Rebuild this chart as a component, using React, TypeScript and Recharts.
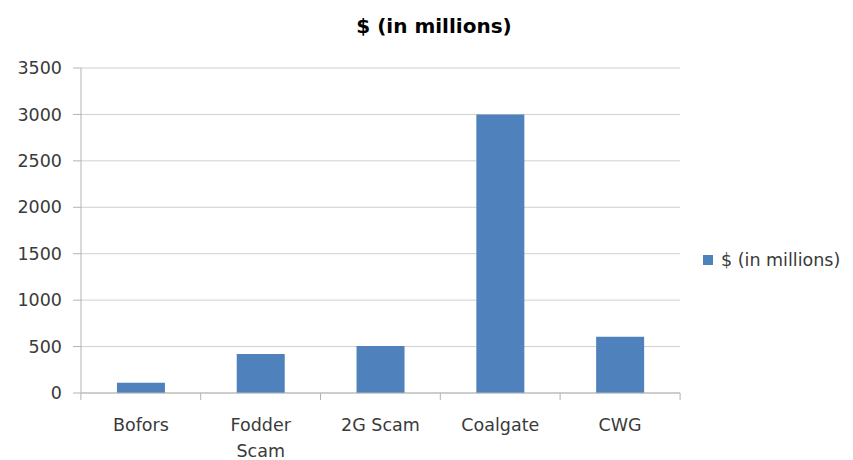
import { BarChart, Bar, XAxis, YAxis, CartesianGrid } from 'recharts'

const categories = ['Bofors', 'Fodder Scam', '2G Scam', 'Coalgate', 'CWG']
const amounts = [110, 420, 505, 3000, 605]
const yTicks = [0, 500, 1000, 1500, 2000, 2500, 3000, 3500]

const data = categories.map((name, i) => ({ name, value: amounts[i] }))

const FONT = '"DejaVu Sans", sans-serif'
const FONT_SIZE = 17.5
const BAR_COLOR = '#4f81bd'
const AXIS_COLOR = '#b3b3b3'
const TEXT_COLOR = '#3a3a3a'

// greedy word wrap with a rough glyph width estimate
function wrapLabel(label: string, maxWidth: number) {
  const charW = FONT_SIZE * 0.6
  const lines: string[] = []
  let cur = ''
  label.split(' ').forEach((w) => {
    const next = cur ? cur + ' ' + w : w
    if (cur && next.length * charW > maxWidth) {
      lines.push(cur)
      cur = w
    } else {
      cur = next
    }
  })
  if (cur) lines.push(cur)
  return lines
}

// category ticks with Excel-like marks at band edges
function CategoryTick(props: any) {
  const { x, y, payload, index } = props
  const half = 60
  const lines = wrapLabel(String(payload.value), 90)
  return (
    <g>
      <line x1={x - half} x2={x - half} y1={y - 8} y2={y - 1} stroke={AXIS_COLOR} />
      {index === categories.length - 1 && (
        <line x1={x + half} x2={x + half} y1={y - 8} y2={y - 1} stroke={AXIS_COLOR} />
      )}
      <text x={x} y={y + 30} textAnchor="middle" fill={TEXT_COLOR} fontSize={FONT_SIZE} fontFamily={FONT}>
        {lines.map((l, i) => (
          <tspan key={i} x={x} dy={i === 0 ? 0 : 26}>
            {l}
          </tspan>
        ))}
      </text>
    </g>
  )
}

export default function App() {
  return (
    <div style={{ position: 'absolute', left: 0, top: 0, width: 853, height: 460, background: '#fff' }}>
      <div
        style={{
          position: 'absolute',
          top: 14,
          left: 0,
          width: 868,
          textAlign: 'center',
          fontFamily: FONT,
          fontWeight: 700,
          fontSize: 20,
          color: '#000',
        }}
      >
        $ (in millions)
      </div>
      <BarChart
        width={853}
        height={460}
        data={data}
        margin={{ top: 68, right: 173, left: 21, bottom: 7 }}
        barCategoryGap="30%"
      >
        <CartesianGrid vertical={false} stroke="#d0d0d0" />
        <XAxis
          dataKey="name"
          tick={<CategoryTick />}
          tickLine={false}
          axisLine={{ stroke: AXIS_COLOR }}
          interval={0}
          height={60}
        />
        <YAxis
          domain={[0, 3500]}
          ticks={yTicks}
          width={60}
          tickSize={8}
          tickMargin={11}
          tickLine={{ stroke: AXIS_COLOR }}
          axisLine={{ stroke: AXIS_COLOR }}
          tick={{ fill: TEXT_COLOR, fontSize: FONT_SIZE, fontFamily: FONT }}
          interval={0}
        />
        <Bar dataKey="value" fill={BAR_COLOR} isAnimationActive={false} />
      </BarChart>
      <div
        style={{
          position: 'absolute',
          left: 703,
          top: 250,
          display: 'flex',
          alignItems: 'center',
          fontFamily: FONT,
          fontSize: FONT_SIZE,
          color: TEXT_COLOR,
          whiteSpace: 'nowrap',
        }}
      >
        <span style={{ display: 'inline-block', width: 10, height: 10, background: BAR_COLOR, marginRight: 8 }} />
        $ (in millions)
      </div>
    </div>
  )
}
